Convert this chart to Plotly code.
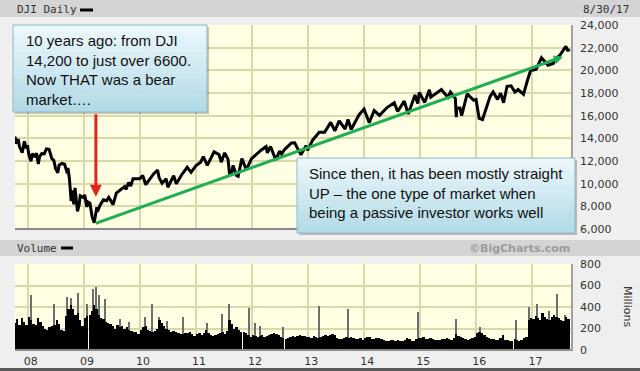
import plotly.graph_objects as go

# ---------------- data ----------------
price_dates = [
    "2007-10-09", "2007-10-19", "2007-10-31", "2007-11-08", "2007-11-26", "2007-12-10", "2007-12-20", "2007-12-31",
    "2008-01-08", "2008-01-22", "2008-01-31", "2008-02-15", "2008-02-27", "2008-03-10", "2008-03-18", "2008-04-01",
    "2008-04-17", "2008-05-02", "2008-05-19", "2008-06-06", "2008-06-19", "2008-06-30", "2008-07-15", "2008-07-23",
    "2008-08-11", "2008-08-28", "2008-09-15", "2008-09-19", "2008-09-29", "2008-10-10", "2008-10-13", "2008-10-27",
    "2008-11-04", "2008-11-20", "2008-12-01", "2008-12-08", "2008-12-31", "2009-01-06", "2009-01-20", "2009-01-28",
    "2009-02-09", "2009-02-23", "2009-03-09", "2009-03-26", "2009-03-30", "2009-04-17", "2009-05-08", "2009-05-29",
    "2009-06-12", "2009-07-10", "2009-07-31", "2009-08-31", "2009-09-23", "2009-10-02", "2009-10-19", "2009-11-02",
    "2009-11-17", "2009-12-31", "2010-01-19", "2010-02-08", "2010-03-31", "2010-04-26", "2010-05-06", "2010-05-25",
    "2010-06-21", "2010-07-02", "2010-08-09", "2010-08-26", "2010-09-30", "2010-11-05", "2010-11-30", "2010-12-31",
    "2011-01-31", "2011-02-18", "2011-03-16", "2011-04-29", "2011-05-31", "2011-06-15", "2011-07-07", "2011-07-29",
    "2011-08-08", "2011-08-19", "2011-08-31", "2011-09-22", "2011-10-03", "2011-10-27", "2011-11-25", "2011-12-30",
    "2012-01-31", "2012-02-29", "2012-04-02", "2012-04-10", "2012-05-01", "2012-06-04", "2012-06-29", "2012-07-12",
    "2012-07-31", "2012-09-14", "2012-10-05", "2012-11-15", "2012-12-18", "2012-12-28", "2013-01-31", "2013-03-14",
    "2013-04-18", "2013-05-28", "2013-06-24", "2013-07-22", "2013-08-30", "2013-09-18", "2013-10-08", "2013-11-29",
    "2013-12-31", "2014-02-03", "2014-03-07", "2014-04-11", "2014-05-30", "2014-07-16", "2014-08-07", "2014-09-19",
    "2014-10-15", "2014-11-28", "2014-12-16", "2014-12-26", "2015-01-30", "2015-03-02", "2015-03-11", "2015-05-19",
    "2015-06-30", "2015-07-17", "2015-08-18", "2015-08-24", "2015-08-27", "2015-09-17", "2015-09-28", "2015-11-03",
    "2015-12-14", "2015-12-31", "2016-01-20", "2016-02-11", "2016-03-31", "2016-04-20", "2016-05-19", "2016-06-08",
    "2016-06-27", "2016-07-20", "2016-08-15", "2016-09-09", "2016-09-30", "2016-11-04", "2016-11-30", "2016-12-20",
    "2017-01-25", "2017-03-01", "2017-04-13", "2017-05-17", "2017-05-31", "2017-06-30", "2017-08-07", "2017-08-21",
    "2017-08-30",
]
price_values = [
    14165, 13520, 13930, 13270, 12740, 13730, 13230, 13265,
    12590, 11970, 12650, 12350, 12690, 11740, 12390, 12650,
    12620, 13060, 13030, 12210, 12060, 11350, 10960, 11630,
    11780, 11715, 10920, 11390, 10365, 8450, 9390, 8180,
    9625, 7550, 8150, 8930, 8776, 9015, 7950, 8375,
    8270, 7115, 6547, 7925, 7520, 8130, 8575, 8500,
    8800, 8150, 9170, 9500, 9750, 9490, 10090, 9790,
    10440, 10430, 10725, 9910, 10860, 11205, 10520, 10040,
    10440, 9686, 10700, 9985, 10790, 11445, 11000, 11578,
    11890, 12390, 11613, 12810, 12570, 11900, 12720, 12143,
    10810, 10817, 11613, 10733, 10655, 12208, 11231, 12218,
    12633, 12952, 13264, 12715, 13279, 12101, 12880, 12605,
    13009, 13593, 13610, 12542, 13350, 12938, 13860, 14539,
    14537, 15409, 14660, 15545, 14810, 15676, 14776, 16086,
    16577, 15372, 16452, 16027, 16717, 17139, 16368, 17280,
    16142, 17828, 17068, 18053, 17165, 18288, 17635, 18312,
    17620, 18086, 17511, 15871, 16655, 16675, 16001, 17918,
    17368, 17425, 15767, 15660, 17685, 18096, 17435, 17985,
    17140, 18595, 18636, 18085, 18308, 17888, 19124, 19974,
    20069, 21115, 20453, 20606, 21009, 21350, 22118, 21703,
    21892,
]

# semi-monthly volume (millions), Oct 2007 .. Aug 2017
vol_2007 = [250, 290, 230, 300, 260, 230]
vol_2008 = [310, 280, 240, 230, 300, 260, 220, 200, 190, 210, 220, 230,
            280, 240, 190, 180, 320, 380, 420, 380, 330, 340, 280, 220]
vol_2009 = [300, 320, 330, 360, 420, 380, 330, 300, 290, 260, 250, 240,
            220, 200, 230, 210, 220, 200, 210, 190, 180, 170, 170, 150]
vol_2010 = [190, 210, 220, 190, 180, 170, 180, 200, 280, 250, 220, 200,
            190, 170, 180, 170, 160, 150, 150, 160, 160, 170, 150, 130]
vol_2011 = [150, 160, 140, 160, 190, 160, 140, 130, 140, 150, 160, 170,
            150, 180, 280, 240, 200, 210, 190, 170, 170, 160, 140, 120]
vol_2012 = [140, 130, 120, 130, 140, 120, 130, 140, 150, 160, 150, 140,
            120, 110, 100, 110, 120, 130, 120, 130, 140, 130, 130, 120]
vol_2013 = [120, 110, 130, 120, 110, 120, 130, 140, 130, 140, 150, 140,
            110, 100, 100, 110, 120, 110, 120, 110, 100, 100, 110, 90]
vol_2014 = [110, 120, 120, 100, 100, 110, 110, 100, 90, 80, 80, 90,
            90, 80, 90, 80, 80, 90, 110, 100, 80, 80, 100, 110]
vol_2015 = [110, 120, 100, 100, 110, 100, 90, 90, 90, 100, 100, 110,
            100, 90, 110, 150, 130, 120, 110, 100, 90, 100, 110, 120]
vol_2016 = [160, 170, 160, 140, 120, 110, 100, 100, 90, 90, 110, 140,
            90, 90, 80, 80, 100, 90, 80, 90, 110, 120, 280, 300]
vol_2017 = [290, 320, 300, 280, 340, 310, 290, 280, 310, 330, 310, 300,
            280, 270, 310, 290]

spike_dates = [
    "2008-01-20", "2008-06-20", "2008-09-13", "2008-10-10", "2008-11-24", "2009-01-22",
    "2009-03-01", "2009-03-20", "2009-04-08", "2009-05-18", "2009-08-24", "2009-10-22",
    "2010-02-03", "2010-03-20", "2010-05-05", "2010-06-26", "2010-10-09", "2011-03-13",
    "2011-06-19", "2011-08-05", "2011-12-13", "2012-01-20", "2012-02-21", "2012-07-21",
    "2013-03-13", "2013-09-18", "2014-12-17", "2015-08-22", "2016-01-26", "2016-09-17",
    "2016-12-12", "2017-02-02", "2017-04-19", "2017-06-10", "2017-08-02",
]
spike_values = [
    510, 430, 490, 480, 530, 430,
    570, 587, 510, 470, 290, 260,
    310, 430, 310, 270, 310, 250,
    335, 430, 390, 250, 225, 210,
    405, 380, 350, 290, 210, 275,
    400, 430, 360, 525, 330,
]

price_ticks = [6000, 8000, 10000, 12000, 14000, 16000, 18000, 20000, 22000, 24000]
vol_ticks = [0, 200, 400, 600, 800]
year_ticks = ["2008-01-01", "2009-01-01", "2010-01-01", "2011-01-01", "2012-01-01",
              "2013-01-01", "2014-01-01", "2015-01-01", "2016-01-01", "2017-01-01"]
year_labels = ["08", "09", "10", "11", "12", "13", "14", "15", "16", "17"]

# ---------------- build ----------------
vol_values = (vol_2007 + vol_2008 + vol_2009 + vol_2010 + vol_2011 + vol_2012
              + vol_2013 + vol_2014 + vol_2015 + vol_2016 + vol_2017)
vol_dates = []
yy, mm = 2007, 10
for _ in range(len(vol_values) // 2):
    vol_dates += [f"{yy}-{mm:02d}-08", f"{yy}-{mm:02d}-23"]
    mm += 1
    if mm > 12:
        mm = 1
        yy += 1

DAY = 86400000
W, H = 640, 371
ML, MR, MT, MB = 15, 68, 25, 21
PW, PH = W - ML - MR, H - MT - MB


def px(x):
    return (x - ML) / PW


def py(y):
    return (H - MB - y) / PH


BG = "#ffffe3"
GRID = "#dad7a8"
PAGE = "#efefef"
BAND = "#d4d4d4"
TXT = "#333333"

fig = go.Figure()

fig.add_trace(go.Scatter(x=price_dates, y=price_values, mode="lines",
                         line=dict(color="#000000", width=3),
                         xaxis="x", yaxis="y", showlegend=False, hoverinfo="skip"))

fig.add_trace(go.Bar(x=spike_dates, y=spike_values, width=[7 * DAY] * len(spike_dates),
                     marker=dict(color="#6e6e6e", line=dict(width=0)),
                     xaxis="x2", yaxis="y2", showlegend=False, hoverinfo="skip"))
fig.add_trace(go.Bar(x=vol_dates, y=vol_values, width=[15.6 * DAY] * len(vol_dates),
                     marker=dict(color="#000000", line=dict(width=0)),
                     xaxis="x2", yaxis="y2", showlegend=False, hoverinfo="skip"))

xr = ["2007-10-10", "2017-09-16"]
axis_font = dict(family="DejaVu Sans", size=11, color=TXT)

fig.update_layout(
    width=W, height=H, autosize=False,
    margin=dict(l=ML, r=MR, t=MT, b=MB, pad=0, autoexpand=False),
    paper_bgcolor=PAGE, plot_bgcolor=BG,
    barmode="overlay", bargap=0,
    xaxis=dict(domain=[0, 1], anchor="y", range=xr, type="date", automargin=False,
               tickvals=year_ticks, showticklabels=False, ticks="",
               showgrid=True, gridcolor=GRID, gridwidth=1.5, zeroline=False),
    yaxis=dict(domain=[py(229), 1], anchor="x", side="right", range=[6000, 24000],
               automargin=False,
               tickvals=price_ticks, tickformat=",d", ticks="", ticklabelstandoff=7,
               showgrid=True, gridcolor=GRID, gridwidth=1.5, zeroline=False,
               tickfont=axis_font),
    xaxis2=dict(domain=[0, 1], anchor="y2", range=xr, type="date", automargin=False,
                tickvals=year_ticks, ticktext=year_labels, ticks="", ticklabelshift=3,
                ticklabelstandoff=3,
                showgrid=True, gridcolor=GRID, gridwidth=1.5, zeroline=False,
                tickfont=axis_font),
    yaxis2=dict(domain=[0, py(264)], anchor="x2", side="right", range=[0, 800],
                automargin=False,
                tickvals=vol_ticks, ticks="", ticklabelstandoff=7,
                showgrid=True, gridcolor=GRID, gridwidth=1.5, zeroline=False,
                tickfont=axis_font),
)

shapes = []
# header bands
shapes.append(dict(type="rect", xref="paper", yref="paper", x0=px(-5), x1=px(650),
                   y0=py(0), y1=py(17), fillcolor=BAND, line=dict(width=0), layer="below"))
shapes.append(dict(type="rect", xref="paper", yref="paper", x0=px(-5), x1=px(650),
                   y0=py(240), y1=py(256), fillcolor=BAND, line=dict(width=0), layer="below"))
shapes.append(dict(type="rect", xref="paper", yref="paper", x0=px(-5), x1=px(650),
                   y0=py(368), y1=py(375), fillcolor="#5a5a5a", line=dict(width=0), layer="below"))
# little legend dashes
shapes.append(dict(type="line", xref="paper", yref="paper", x0=px(80), x1=px(93),
                   y0=py(10), y1=py(10), line=dict(color="#000", width=3)))
shapes.append(dict(type="line", xref="paper", yref="paper", x0=px(61), x1=px(73),
                   y0=py(248), y1=py(248), line=dict(color="#000", width=3)))
# panel frames (bottom / right bevel)
for top, bot in [(25, 229), (264, 350)]:
    shapes.append(dict(type="line", xref="paper", yref="paper", x0=px(15), x1=px(573),
                       y0=py(bot), y1=py(bot), line=dict(color="#8a8a8a", width=2)))
    shapes.append(dict(type="line", xref="paper", yref="paper", x0=px(572), x1=px(572),
                       y0=py(top), y1=py(bot), line=dict(color="#a0a0a0", width=2)))


def callout(x0, y0, x1, y1):
    # drop shadow
    shapes.append(dict(type="rect", xref="paper", yref="paper", x0=px(x0 + 2), x1=px(x1 + 2),
                       y0=py(y0 + 2), y1=py(y1 + 2), fillcolor="rgba(0,0,0,0.22)",
                       line=dict(width=0)))
    n = 16
    top = (236, 247, 251)
    bot = (178, 218, 231)
    for i in range(n):
        f = i / (n - 1)
        c = tuple(int(round(top[k] + (bot[k] - top[k]) * f)) for k in range(3))
        ya = y0 + (y1 - y0) * i / n
        yb = y0 + (y1 - y0) * (i + 1) / n + 0.6
        shapes.append(dict(type="rect", xref="paper", yref="paper", x0=px(x0), x1=px(x1),
                           y0=py(ya), y1=py(min(yb, y1)), fillcolor="rgb(%d,%d,%d)" % c,
                           line=dict(width=0)))
    shapes.append(dict(type="rect", xref="paper", yref="paper", x0=px(x0), x1=px(x1),
                       y0=py(y0), y1=py(y1), fillcolor="rgba(0,0,0,0)",
                       line=dict(color="#8db9c9", width=1)))


callout(13, 25, 207, 112)
callout(297, 158, 575, 233)

fig.update_layout(shapes=shapes)

mono = dict(family="DejaVu Sans Mono", size=11, color=TXT)
ann = [
    dict(x=px(15), y=py(9.5), xref="paper", yref="paper", text="DJI Daily", showarrow=False,
         xanchor="left", yanchor="middle", font=mono),
    dict(x=px(581), y=py(9.5), xref="paper", yref="paper", text="8/30/17", showarrow=False,
         xanchor="left", yanchor="middle", font=mono),
    dict(x=px(15), y=py(248), xref="paper", yref="paper", text="Volume", showarrow=False,
         xanchor="left", yanchor="middle", font=mono),
    dict(x=px(572), y=py(248), xref="paper", yref="paper", text="<b>©BigCharts.com</b>",
         showarrow=False, xanchor="right", yanchor="middle",
         font=dict(family="DejaVu Sans", size=11, color="#9c9c9c")),
    dict(x=px(628), y=py(306), xref="paper", yref="paper", text="Millions", showarrow=False,
         textangle=90, xanchor="center", yanchor="middle", font=axis_font),
    # red arrow
    dict(x="2009-03-20", y=8850, xref="x", yref="y", ax="2009-03-20", ay=16250,
         axref="x", ayref="y", text="", showarrow=True, arrowhead=2, arrowsize=0.8,
         arrowwidth=3, arrowcolor="#e3241b", standoff=0),
    # green trend arrow
    dict(x="2017-07-19", y=21200, xref="x", yref="y", ax="2009-03-09", ay=6450,
         axref="x", ayref="y", text="", showarrow=True, arrowhead=2, arrowsize=0.6,
         arrowwidth=3, arrowcolor="#1fae52", standoff=0),
    dict(x=px(24), y=py(69.5), xref="paper", yref="paper",
         text="10 years ago: from DJI<br>14,200 to just over 6600.<br>Now THAT was a bear<br>market….",
         showarrow=False, xanchor="left", yanchor="middle", align="left",
         font=dict(family="Liberation Sans", size=15, color="#111")),
    dict(x=px(307), y=py(192.7), xref="paper", yref="paper",
         text="Since then, it has been mostly straight<br>UP – the one type of market when<br>being a passive investor works well",
         showarrow=False, xanchor="left", yanchor="middle", align="left",
         font=dict(family="Liberation Sans", size=15, color="#111")),
]
fig.update_layout(annotations=ann)

fig.write_html("out.html",
               config={"displayModeBar": False, "responsive": False},
               post_script="document.documentElement.style.margin='0';"
                           "document.body.style.margin='0';"
                           "document.body.style.overflow='hidden';"
                           "document.documentElement.style.overflow='hidden';")
